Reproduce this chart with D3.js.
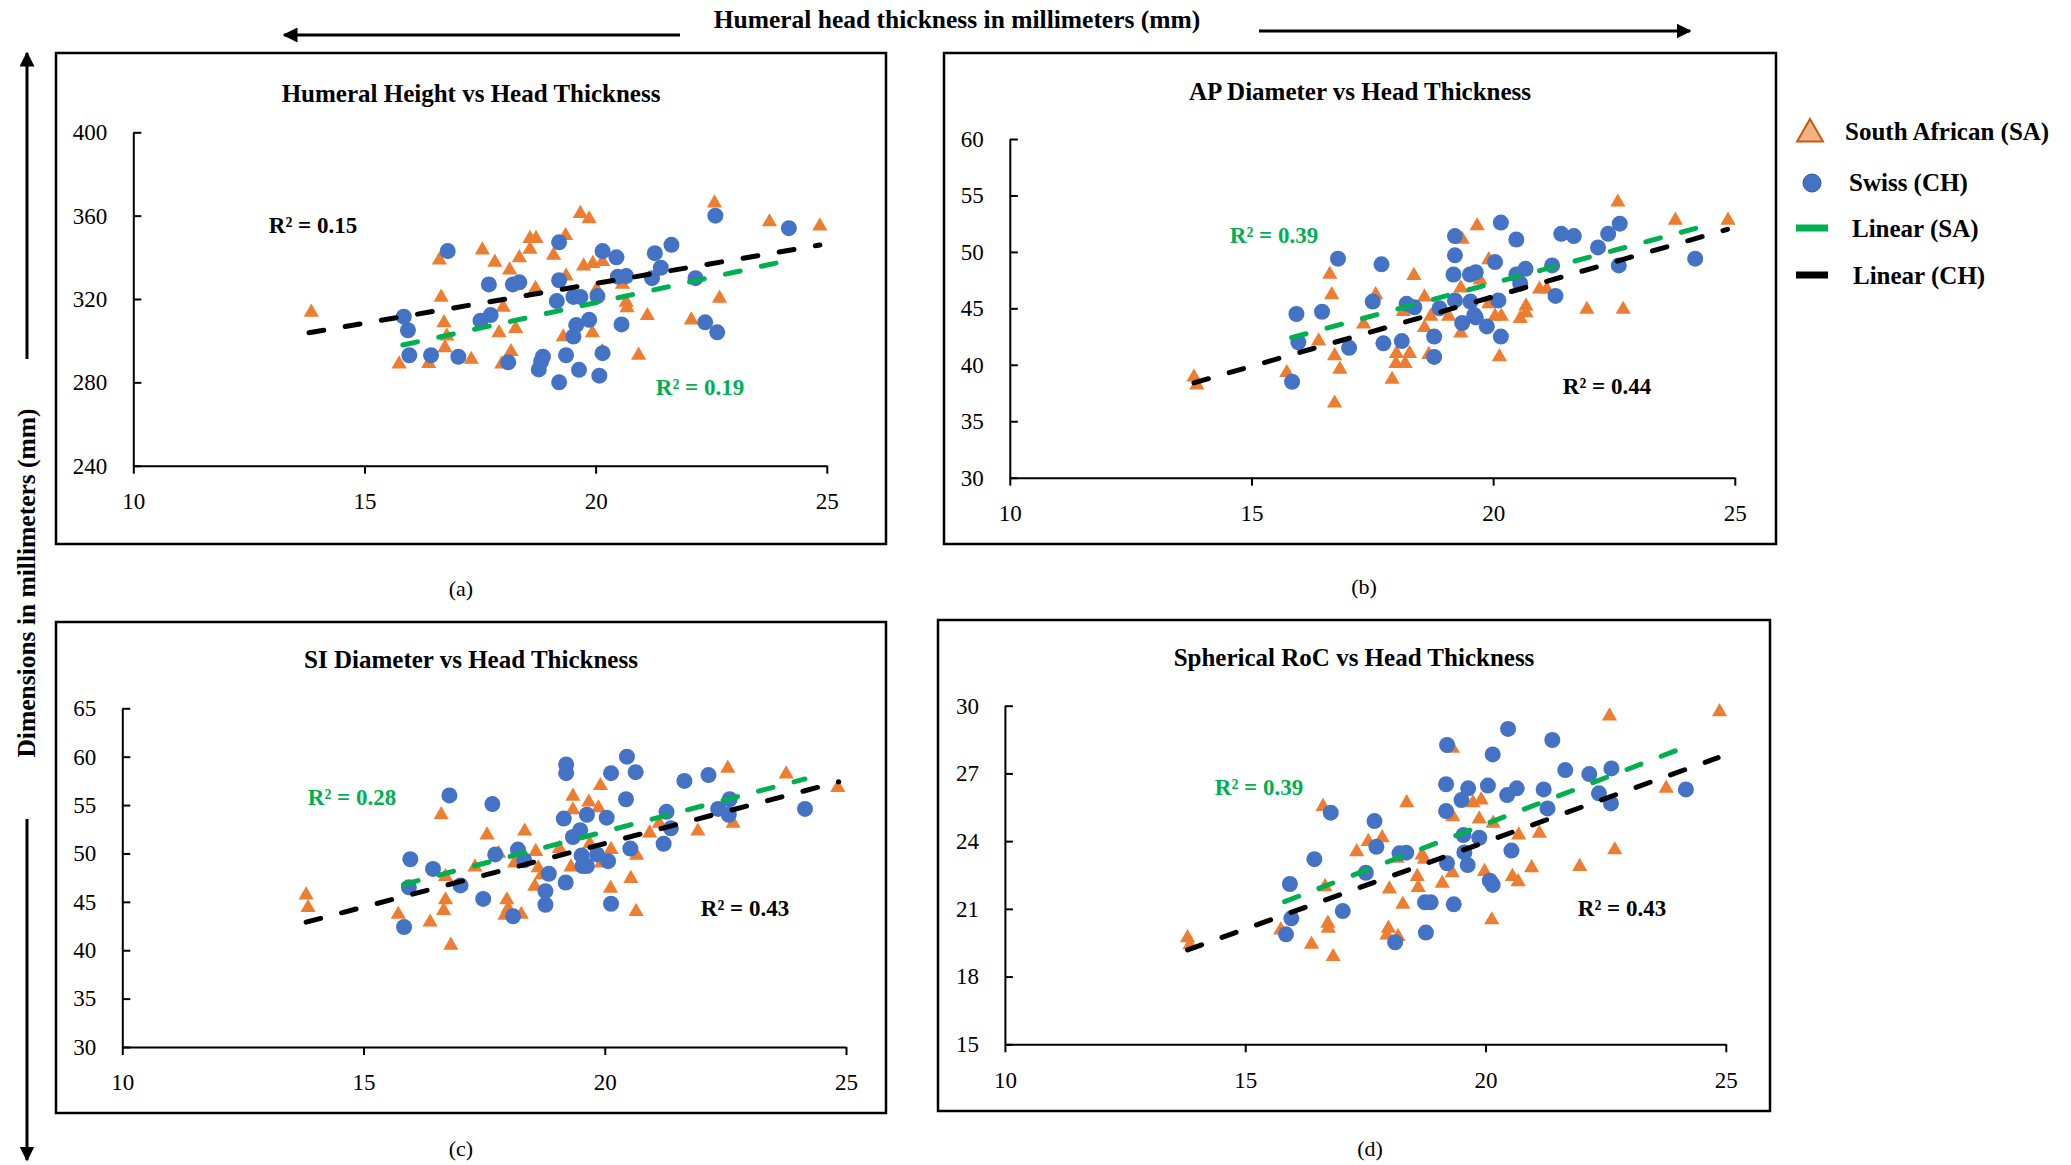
<!DOCTYPE html>
<html>
<head>
<meta charset="utf-8">
<script src="https://cdn.jsdelivr.net/npm/d3@7"></script>
<style>
  body { margin: 0; background: #fff; }
  svg { display: block; font-family: "Liberation Serif", "Times New Roman", serif; }
</style>
</head>
<body>
<svg id="chart"></svg>
<script>
// [head thickness, dimension] per specimen
const heightSA = [[13.85,313.6],[15.75,288.8],[16.62,338.7],[16.66,320.8],[16.72,308.6],[16.78,302.2],[16.74,296.6],[16.39,289.0],[17.31,291.0],[17.55,343.5],[17.82,337.6],[18.0,316.0],[17.91,303.8],[17.97,288.8],[18.14,333.9],[18.17,294.7],[18.27,305.8],[18.35,339.8],[18.58,343.8],[18.58,349.0],[18.71,349.0],[18.70,325.0],[19.09,341.0],[19.35,350.4],[19.36,331.0],[19.30,301.8],[19.67,361.0],[19.86,358.4],[19.74,335.8],[19.94,337.0],[20.15,337.9],[20.02,324.6],[19.93,303.8],[20.14,294.7],[20.58,327.0],[20.66,318.4],[20.68,315.8],[21.12,312.0],[20.93,293.0],[22.07,309.9],[22.57,366.0],[22.68,320.3],[23.76,357.0],[24.85,355.0]];
const heightCH = [[15.85,311.5],[15.94,305.0],[15.97,293.0],[16.80,343.0],[16.44,293.0],[17.03,292.3],[17.51,309.6],[17.73,312.3],[17.69,327.0],[18.11,289.6],[18.21,327.0],[18.35,328.0],[18.77,286.2],[18.82,290.0],[18.86,292.3],[19.21,347.2],[19.21,329.0],[19.16,319.0],[19.21,280.0],[19.36,293.0],[19.52,302.0],[19.58,307.5],[19.52,321.0],[19.67,321.0],[19.64,286.0],[19.86,310.0],[20.04,321.4],[20.15,343.0],[20.08,283.2],[20.15,294.0],[20.45,340.0],[20.48,330.7],[20.66,331.0],[20.56,307.8],[21.22,330.0],[21.28,342.0],[21.41,335.0],[21.64,346.0],[22.16,330.0],[22.37,308.8],[22.59,360.0],[22.63,304.0],[24.18,354.0]];

const apSA = [[13.81,38.9],[13.87,38.2],[15.73,39.3],[16.39,42.1],[16.62,48.0],[16.66,46.2],[16.72,40.8],[16.83,39.6],[16.72,36.6],[17.32,43.6],[17.57,46.2],[17.91,38.7],[18.0,41.0],[17.99,40.1],[18.18,40.1],[18.27,41.0],[18.14,44.7],[18.36,47.9],[18.58,46.0],[18.58,43.3],[18.71,44.3],[18.67,40.9],[19.08,44.3],[19.33,42.8],[19.33,46.8],[19.36,51.1],[19.67,52.3],[19.73,47.5],[19.91,49.3],[19.91,45.4],[20.04,44.3],[20.17,44.3],[20.13,40.7],[20.56,44.1],[20.68,45.2],[20.68,44.6],[20.96,46.7],[21.11,46.7],[21.94,44.9],[22.58,54.4],[22.69,44.9],[23.77,52.8],[24.86,52.8]];
const apCH = [[15.93,44.5],[15.97,42.0],[15.84,38.5],[16.46,44.7],[16.79,49.4],[17.02,41.5],[17.51,45.6],[17.69,48.9],[17.73,41.9],[18.11,42.1],[18.21,45.4],[18.37,45.1],[18.78,42.5],[18.78,40.7],[18.89,45.0],[19.21,51.4],[19.21,49.7],[19.18,48.0],[19.21,45.7],[19.36,43.7],[19.52,48.0],[19.64,48.2],[19.53,45.6],[19.61,44.4],[19.64,44.2],[19.87,43.4],[20.04,49.1],[20.11,45.7],[20.16,42.5],[20.16,52.6],[20.48,51.1],[20.48,48.0],[20.67,48.5],[20.56,47.2],[21.22,48.8],[21.29,46.1],[21.41,51.6],[21.67,51.4],[22.17,50.4],[22.38,51.6],[22.62,52.5],[22.60,48.8],[24.18,49.4]];

const siSA = [[13.81,45.7],[13.85,44.4],[15.72,43.7],[16.38,42.9],[16.61,54.0],[16.66,44.1],[16.70,45.2],[16.70,47.6],[16.81,40.5],[17.31,48.6],[17.56,51.9],[17.80,50.0],[17.93,43.6],[17.97,45.2],[18.0,44.3],[18.27,43.7],[18.13,49.0],[18.34,52.3],[18.57,50.2],[18.55,46.6],[18.62,48.5],[18.69,47.8],[19.06,50.5],[19.34,55.9],[19.34,54.5],[19.30,48.6],[19.67,55.3],[19.69,51.0],[19.87,54.7],[19.91,57.0],[19.93,49.0],[20.13,50.4],[20.12,46.4],[20.54,47.4],[20.66,49.8],[20.65,44.0],[20.93,52.1],[21.13,53.1],[21.93,52.3],[22.55,58.8],[22.66,53.1],[23.76,58.2],[24.83,56.8]];
const siCH = [[15.84,42.4],[15.94,46.5],[15.97,49.4],[16.44,48.4],[16.78,56.0],[17.01,46.7],[17.48,45.3],[17.67,55.1],[17.73,49.9],[18.10,43.5],[18.20,50.4],[18.33,49.3],[18.77,46.1],[18.77,44.7],[18.84,47.9],[19.19,47.0],[19.15,53.6],[19.20,59.2],[19.20,58.3],[19.34,51.7],[19.49,52.4],[19.52,49.8],[19.54,48.7],[19.63,48.7],[19.63,54.0],[19.84,49.9],[20.04,53.7],[20.07,49.2],[20.13,58.3],[20.13,44.8],[20.46,60.0],[20.44,55.6],[20.64,58.4],[20.53,50.5],[21.22,51.0],[21.28,54.3],[21.37,52.6],[21.65,57.5],[22.15,58.1],[22.35,54.6],[22.59,55.6],[22.57,54.0],[24.15,54.6]];

const rocSA = [[13.80,19.72],[13.85,19.40],[15.74,20.06],[16.38,19.43],[16.62,25.53],[16.66,21.98],[16.72,20.36],[16.73,20.14],[16.83,18.88],[17.32,23.53],[17.56,23.98],[17.85,24.15],[17.98,20.14],[17.95,19.84],[18.18,19.77],[18.0,21.88],[18.16,23.24],[18.28,21.20],[18.36,25.70],[18.58,22.43],[18.60,21.94],[18.68,23.38],[18.73,23.19],[19.10,22.13],[19.31,28.11],[19.32,25.08],[19.31,22.60],[19.74,25.70],[19.91,25.82],[19.87,24.98],[19.98,22.65],[20.16,24.79],[20.13,20.51],[20.56,22.43],[20.68,22.20],[20.69,24.27],[20.96,22.82],[21.12,24.35],[21.96,22.87],[22.58,29.54],[22.69,23.61],[23.76,26.34],[24.87,29.73]];
const rocCH = [[15.85,19.87],[15.96,20.58],[15.93,22.10],[16.44,23.20],[16.78,25.26],[17.03,20.90],[17.51,22.60],[17.69,24.89],[17.73,23.75],[18.12,19.52],[18.21,23.46],[18.35,23.49],[18.76,19.95],[18.74,21.29],[18.86,21.29],[19.20,28.26],[19.18,26.52],[19.18,25.33],[19.20,23.02],[19.34,21.20],[19.50,25.82],[19.54,24.27],[19.56,23.50],[19.64,26.34],[19.63,22.94],[19.87,24.15],[20.05,26.46],[20.09,22.25],[20.15,22.06],[20.15,27.84],[20.47,28.97],[20.45,26.04],[20.65,26.34],[20.54,23.58],[21.21,26.29],[21.29,25.45],[21.39,28.48],[21.66,27.15],[22.16,26.97],[22.36,26.12],[22.62,27.22],[22.61,25.67],[24.17,26.29]];

// trendline end points as drawn in the figure
const heightTrendSA = [[15.83,297.9],[24.18,338.6]];
const heightTrendCH = [[13.80,303.8],[24.85,345.9]];
const apTrendSA = [[15.83,42.4],[24.20,52.1]];
const apTrendCH = [[13.81,38.4],[24.85,52.0]];
const siTrendSA = [[15.83,46.8],[24.15,57.7]];
const siTrendCH = [[13.81,42.9],[24.85,57.4]];
const rocTrendSA = [[15.82,21.32],[24.13,28.15]];
const rocTrendCH = [[13.80,19.18],[24.84,27.70]];

const titles = ["Humeral Height vs Head Thickness", "AP Diameter vs Head Thickness", "SI Diameter vs Head Thickness", "Spherical RoC vs Head Thickness"];
const subLabels = ["(a)", "(b)", "(c)", "(d)"];
const r2SA = ["0.19", "0.39", "0.28", "0.39"];
const r2CH = ["0.15", "0.44", "0.43", "0.43"];
const xTicks = [10, 15, 20, 25];
const heightTicks = [240, 280, 320, 360, 400];
const apTicks = [30, 35, 40, 45, 50, 55, 60];
const siTicks = [30, 35, 40, 45, 50, 55, 60, 65];
const rocTicks = [15, 18, 21, 24, 27, 30];

const W = 2071, H = 1165;
const orange = "#ED7D31", blue = "#4472C4", green = "#00B050";

// frame box, plot range, label positions (pixels)
const layout = [
  { fx: 56, fy: 53, fw: 830, fh: 491, x0: 133.3, x1: 826.8, yTop: 132.3, yBot: 465.7, titleY: 94, sub: [461, 588], r2SA: [700, 387], r2CH: [313, 225] },
  { fx: 944, fy: 53, fw: 832, fh: 491, x0: 1009.8, x1: 1734.8, yTop: 139, yBot: 477.7, titleY: 92, sub: [1364, 586], r2SA: [1274, 235], r2CH: [1607, 386] },
  { fx: 56, fy: 622, fw: 830, fh: 491, x0: 122.3, x1: 846, yTop: 708.3, yBot: 1047, titleY: 660, sub: [461, 1148], r2SA: [352, 797], r2CH: [745, 908] },
  { fx: 938, fy: 620, fw: 832, fh: 491, x0: 1004.9, x1: 1725.8, yTop: 705.7, yBot: 1044.3, titleY: 658, sub: [1370, 1148], r2SA: [1259, 787], r2CH: [1622, 908] }
];

const panels = [
  { sa: heightSA, ch: heightCH, ticks: heightTicks, trendSA: heightTrendSA, trendCH: heightTrendCH },
  { sa: apSA, ch: apCH, ticks: apTicks, trendSA: apTrendSA, trendCH: apTrendCH },
  { sa: siSA, ch: siCH, ticks: siTicks, trendSA: siTrendSA, trendCH: siTrendCH },
  { sa: rocSA, ch: rocCH, ticks: rocTicks, trendSA: rocTrendSA, trendCH: rocTrendCH }
];

const svg = d3.select("#chart").attr("width", W).attr("height", H);
svg.append("rect").attr("width", W).attr("height", H).attr("fill", "#fff");

const triangle = d3.symbol().type(d3.symbolTriangle).size(100);
const circle = d3.symbol().type(d3.symbolCircle).size(201);

panels.forEach((p, i) => {
  const L = layout[i];
  const g = svg.append("g");

  g.append("rect")
    .attr("x", L.fx).attr("y", L.fy)
    .attr("width", L.fw).attr("height", L.fh)
    .attr("fill", "none").attr("stroke", "#000").attr("stroke-width", 2.5);

  g.append("text")
    .attr("x", L.fx + L.fw / 2).attr("y", L.titleY + 8)
    .attr("text-anchor", "middle")
    .attr("font-size", 25).attr("font-weight", "bold")
    .text(titles[i]);

  const x = d3.scaleLinear().domain([10, 25]).range([L.x0, L.x1]);
  const y = d3.scaleLinear().domain(d3.extent(p.ticks)).range([L.yBot, L.yTop]);

  // axes
  const yAxis = g.append("g")
    .attr("transform", `translate(${L.x0},0)`)
    .call(d3.axisLeft(y).tickValues(p.ticks).tickSizeInner(-8).tickSizeOuter(0).tickPadding(26));
  const xAxis = g.append("g")
    .attr("transform", `translate(0,${L.yBot})`)
    .call(d3.axisBottom(x).tickValues(xTicks).tickSizeInner(8).tickSizeOuter(0).tickPadding(19));
  [yAxis, xAxis].forEach(a => {
    a.attr("font-family", null).attr("font-size", 23);
    a.selectAll("path, line").attr("stroke", "#000").attr("stroke-width", 2);
    a.selectAll("text").attr("fill", "#000");
  });

  // South African triangles, Swiss circles on top
  g.selectAll(".sa")
    .data(p.sa)
    .enter()
    .append("path")
    .attr("class", "sa")
    .attr("transform", d => `translate(${x(d[0])},${y(d[1])})`)
    .attr("d", triangle)
    .attr("fill", orange);

  g.selectAll(".ch")
    .data(p.ch)
    .enter()
    .append("path")
    .attr("class", "ch")
    .attr("transform", d => `translate(${x(d[0])},${y(d[1])})`)
    .attr("d", circle)
    .attr("fill", blue);

  // trendlines
  const line = d3.line().x(d => x(d[0])).y(d => y(d[1]));
  [[p.trendSA, green], [p.trendCH, "#000"]].forEach(([pts, col]) => {
    g.append("path")
      .attr("d", line(pts))
      .attr("fill", "none")
      .attr("stroke", col)
      .attr("stroke-width", 5)
      .attr("stroke-linecap", "round")
      .attr("stroke-dasharray", "15,21.7");
  });

  g.append("text")
    .attr("x", L.r2SA[0]).attr("y", L.r2SA[1] + 8)
    .attr("text-anchor", "middle")
    .attr("font-size", 23).attr("font-weight", "bold").attr("fill", green)
    .text(`R² = ${r2SA[i]}`);
  g.append("text")
    .attr("x", L.r2CH[0]).attr("y", L.r2CH[1] + 8)
    .attr("text-anchor", "middle")
    .attr("font-size", 23).attr("font-weight", "bold").attr("fill", "#000")
    .text(`R² = ${r2CH[i]}`);

  g.append("text")
    .attr("x", L.sub[0]).attr("y", L.sub[1] + 8)
    .attr("text-anchor", "middle")
    .attr("font-size", 22)
    .text(subLabels[i]);
});

// shared axis captions with arrows
const defs = svg.append("defs");
defs.append("marker")
  .attr("id", "head")
  .attr("viewBox", "0 0 10 10")
  .attr("refX", 9).attr("refY", 5)
  .attr("markerWidth", 5).attr("markerHeight", 5)
  .attr("markerUnits", "strokeWidth")
  .attr("orient", "auto")
  .append("path").attr("d", "M0,0L10,5L0,10z").attr("fill", "#000");

const arrows = [[680, 35, 284, 35], [1259, 31, 1690, 31], [27, 359, 27, 53], [27, 819, 27, 1160]];
svg.selectAll(".arrow")
  .data(arrows)
  .enter()
  .append("line")
  .attr("class", "arrow")
  .attr("x1", d => d[0]).attr("y1", d => d[1])
  .attr("x2", d => d[2]).attr("y2", d => d[3])
  .attr("stroke", "#000").attr("stroke-width", 3)
  .attr("marker-end", "url(#head)");

svg.append("text")
  .attr("x", 957).attr("y", 28)
  .attr("text-anchor", "middle")
  .attr("font-size", 25.5).attr("font-weight", "bold")
  .text("Humeral head thickness in millimeters (mm)");

svg.append("text")
  .attr("transform", "translate(35,583) rotate(-90)")
  .attr("text-anchor", "middle")
  .attr("font-size", 25.5).attr("font-weight", "bold")
  .text("Dimensions in millimeters (mm)");

// legend
const legend = svg.append("g");
legend.append("path")
  .attr("transform", "translate(1810,134)")
  .attr("d", d3.symbol().type(d3.symbolTriangle).size(290))
  .attr("fill", "#F4B183").attr("stroke", "#C55A11").attr("stroke-width", 2);
legend.append("circle")
  .attr("cx", 1812).attr("cy", 183).attr("r", 9)
  .attr("fill", blue).attr("stroke", "#2F528F").attr("stroke-width", 1);
legend.append("line")
  .attr("x1", 1796).attr("x2", 1828).attr("y1", 228).attr("y2", 228)
  .attr("stroke", green).attr("stroke-width", 7);
legend.append("line")
  .attr("x1", 1796).attr("x2", 1828).attr("y1", 275).attr("y2", 275)
  .attr("stroke", "#000").attr("stroke-width", 7);

const legendLabels = ["South African (SA)", "Swiss (CH)", "Linear (SA)", "Linear (CH)"];
const legendPos = [[1845, 132], [1849, 183], [1852, 229], [1853, 276]];
legend.selectAll(".lbl")
  .data(legendLabels)
  .enter()
  .append("text")
  .attr("class", "lbl")
  .attr("x", (d, i) => legendPos[i][0])
  .attr("y", (d, i) => legendPos[i][1] + 8)
  .attr("font-size", 25).attr("font-weight", "bold")
  .text(d => d);
</script>
</body>
</html>
